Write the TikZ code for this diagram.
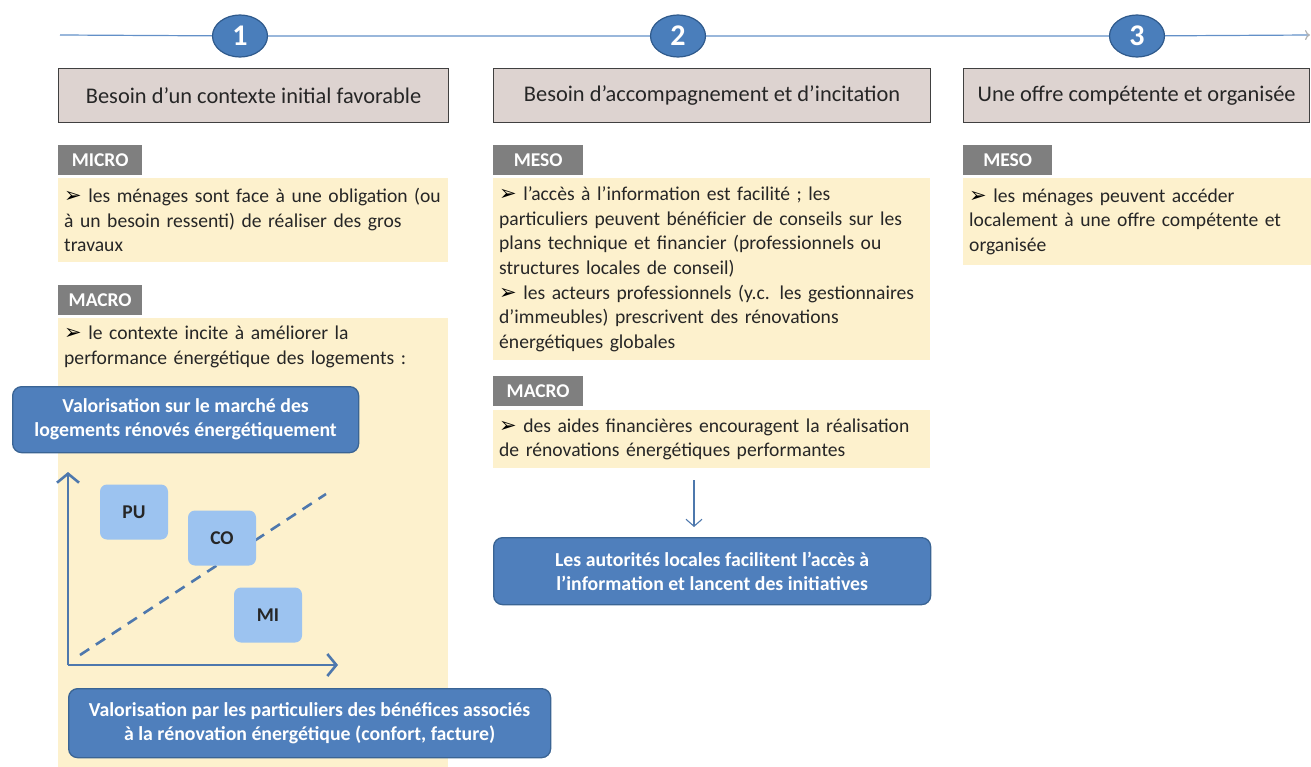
\documentclass[tikz,border=0pt]{standalone}
\usepackage{fontspec}
\setmainfont{Carlito}
\newfontfamily\symfont{DejaVu Sans}
\usetikzlibrary{arrows.meta,shapes.geometric}

\definecolor{tline}{HTML}{6390C8}
\definecolor{numfill}{HTML}{4A7EBB}
\definecolor{numedge}{HTML}{2F5A8C}
\definecolor{headfill}{HTML}{DDD3D0}
\definecolor{tabgray}{HTML}{7F7F7F}
\definecolor{notefill}{HTML}{FDF1CD}
\definecolor{boxblue}{HTML}{4F7FBC}
\definecolor{boxedge}{HTML}{3A6494}
\definecolor{chipblue}{HTML}{9CC3F0}
\definecolor{axisblue}{HTML}{4E78AD}

\newcommand{\fleche}{{\symfont\fontsize{21}{21}\selectfont\color{black}➢}\ }

\begin{document}
\begin{tikzpicture}[x=1pt, y=-1pt,
	every node/.style={font=\fontsize{19.6}{24.6}\selectfont, text=black!85},
	num/.style={ellipse, fill=numfill, draw=numedge, line width=1.2pt, minimum width=55pt, minimum height=42pt, inner sep=0pt, text=white, font=\bfseries\fontsize{30}{30}\selectfont},
	head/.style={draw=black!75, fill=headfill, line width=1.2pt, minimum height=54pt, anchor=north west, inner sep=0pt, font=\fontsize{22.4}{24}\selectfont},
	tab/.style={fill=tabgray, minimum width=84pt, minimum height=30pt, anchor=north west, inner sep=0pt, text=white, font=\bfseries\fontsize{19.5}{20}\selectfont},
	note/.style={fill=notefill, anchor=north west, align=left, inner xsep=6pt, inner ysep=8pt},
	bluebox/.style={rounded corners=9pt, fill=boxblue, draw=boxedge, line width=1.3pt, anchor=north west, align=center, inner sep=0pt, text=white, font=\bfseries\fontsize{19.8}{24}\selectfont},
	chip/.style={fill=chipblue, rounded corners=7pt, minimum width=68pt, minimum height=55pt, font=\bfseries\fontsize{19.5}{20}\selectfont},
	axis/.style={draw=axisblue, line width=2.6pt, -{Straight Barb[length=9pt, width=22pt, line width=2.6pt]}}]
\useasboundingbox (0,0) rectangle (1311,767);

% timeline with the three steps
\node[num] (c1) at (240,36) {1};
\node[num] (c2) at (678,36) {2};
\node[num] (c3) at (1137,36) {3};
\coordinate (tl0) at (60,35);
\coordinate (tl1) at (1310,35);
\draw[tline, line width=1.2pt] (tl0) -- (c1) -- (c2) -- (c3);
\draw[tline, line width=1.2pt, -{To[length=5pt, width=10pt, color=gray!60]}] (c3) -- (tl1);

\node[head, minimum width=390pt] (h1) at (58,68) {Besoin d’un contexte initial favorable};
\node[head, minimum width=437pt] (h2) at (493,68) {Besoin d’accompagnement et d’incitation};
\node[head, minimum width=346pt] (h3) at (963,68) {Une offre compétente et organisée};

% column 1
\node[tab] (t1a) at (58,145) {MICRO};
\node[note, text width=378pt, minimum height=84pt] (n1a) at (58,178) {\fleche les ménages sont face à une obligation (ou\\à un besoin ressenti) de réaliser des gros\\travaux};
\node[tab] (t1b) at (58,285) {MACRO};
\fill[notefill] (58,318) rectangle (448,767);
\node[note, fill=none, text width=378pt] (n1b) at (58,318) {\fleche le contexte incite à améliorer la\\performance énergétique des logements :};

% positioning chart
\coordinate (o) at (68,665);
\coordinate (ytop) at (68,472);
\coordinate (xend) at (338,665);
\coordinate (d0) at (80,655);
\coordinate (d1) at (326,494);
\draw[axisblue, line width=2.6pt, dash pattern=on 11pt off 8pt] (d0) -- (d1);
\draw[axis] (o) -- (ytop);
\draw[axis] (o) -- (xend);
\node[chip] (pu) at (134,512) {PU};
\node[chip] (co) at (222,538) {CO};
\node[chip] (mi) at (268,615) {MI};

\node[bluebox, minimum width=346pt, minimum height=66pt] (vmarket) at (12,386) {Valorisation sur le marché des\\logements rénovés énergétiquement};
\node[bluebox, minimum width=482pt, minimum height=69pt] (vhome) at (68,688) {Valorisation par les particuliers des bénéfices associés\\à la rénovation énergétique (confort, facture)};

% column 2
\node[tab, minimum width=90pt] (t2a) at (493,145) {MESO};
\node[note, text width=425pt, minimum height=182pt] (n2a) at (493,178) {\fleche l’accès à l’information est facilité ; les\\particuliers peuvent bénéficier de conseils sur les\\plans technique et financier (professionnels ou\\structures locales de conseil)\\\fleche les acteurs professionnels (y.c. les gestionnaires\\d’immeubles) prescrivent des rénovations\\énergétiques globales};
\node[tab, minimum width=90pt] (t2b) at (493,376) {MACRO};
\node[note, text width=425pt, minimum height=58pt] (n2b) at (493,410) {\fleche des aides financières encouragent la réalisation\\de rénovations énergétiques performantes};
\node[bluebox, minimum width=437pt, minimum height=67pt] (auth) at (493,537) {Les autorités locales facilitent l’accès à\\l’information et lancent des initiatives};
\coordinate (ar0) at (694,480);
\draw[axisblue, line width=1.1pt, shorten >=10pt, -{Straight Barb[length=7pt, width=16pt]}] (ar0) -- (ar0 |- auth.north);

% column 3
\node[tab, minimum width=89pt] (t3a) at (963,145) {MESO};
\node[note, text width=336pt, minimum height=87pt] (n3a) at (963,178) {\fleche les ménages peuvent accéder\\localement à une offre compétente et\\organisée};
\end{tikzpicture}
\end{document}
